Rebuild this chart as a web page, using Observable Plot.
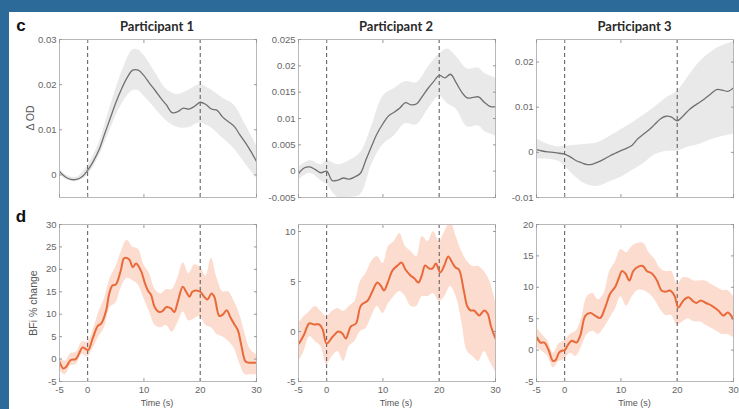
<!DOCTYPE html>
<html>
<head>
<meta charset="utf-8">
<script src="https://cdn.jsdelivr.net/npm/d3@7"></script>
<script src="https://cdn.jsdelivr.net/npm/@observablehq/plot@0.6"></script>
<style>
  body { margin: 0; }
  #root { position: relative; width: 739px; height: 409px; background: #2b6a99; overflow: hidden; }
  #paper { position: absolute; left: 9px; top: 12px; right: 0; bottom: 0; background: #fff; }
  .abs { position: absolute; white-space: nowrap; }
  .title { font-family: Lato, "Open Sans", sans-serif; font-weight: 700; font-size: 13px; color: #2a2a2a; transform: translate(-50%, -50%); }
  .tag { font-family: "Liberation Sans", Arial, sans-serif; font-weight: 700; font-size: 17px; color: #111; transform: translate(-50%, -50%); }
  .ylab { font-family: "Liberation Sans", Arial, sans-serif; font-size: 10.5px; color: #555; transform: translate(-50%, -50%) rotate(-90deg); }
  .xlab { font-family: "Liberation Sans", Arial, sans-serif; font-size: 9px; color: #555; transform: translate(-50%, -50%); }
  svg { position: absolute; }
</style>
</head>
<body>
<div id="root"><div id="paper"></div></div>
<script>
// ---------- data ----------
const titles = ["Participant 1", "Participant 2", "Participant 3"];
const rowTags = ["c", "d"];
const rowYLabels = ["Δ OD", "BFi % change"];
const xAxisLabel = "Time (s)";
const xTicks = [-5, 0, 10, 20, 30];
const eventTimes = [0, 20];

// Row c: ΔOD (mean line, 1 s grid)
const odTime = [-5,-4,-3,-2,-1,0,1,2,3,4,5,6,7,8,9,10,11,12,13,14,15,16,17,18,19,20,21,22,23,24,25,26,27,28,29,30];
const od1Mean = [0.0008,-0.0004,-0.0010,-0.0010,-0.0004,0.0010,0.0030,0.0055,0.0090,0.0125,0.0160,0.0190,0.0215,0.0232,0.0232,0.0220,0.0203,0.0187,0.0170,0.0155,0.0138,0.0140,0.0148,0.0146,0.0152,0.0161,0.0156,0.0146,0.0143,0.0128,0.0118,0.0108,0.0090,0.0072,0.0052,0.0030];
const od2Mean = [-0.0005,0.0006,0.0008,0.0003,-0.0003,0.0000,-0.0018,-0.0017,-0.0013,-0.0015,-0.0011,-0.0004,0.0022,0.0048,0.0072,0.0090,0.0105,0.0112,0.0120,0.0130,0.0126,0.0128,0.0142,0.0157,0.0170,0.0182,0.0177,0.0184,0.0168,0.0150,0.0139,0.0140,0.0141,0.0131,0.0123,0.0122];
const od3Mean = [0.0006,0.0003,0.0001,0.0000,-0.0002,-0.0004,-0.0010,-0.0018,-0.0023,-0.0027,-0.0026,-0.0021,-0.0015,-0.0008,-0.0002,0.0004,0.0009,0.0016,0.0030,0.0040,0.0050,0.0062,0.0074,0.0080,0.0078,0.0070,0.0080,0.0093,0.0103,0.0111,0.0120,0.0130,0.0139,0.0138,0.0135,0.0143];

const od1BandTime = [-5,-4,-2,0,2,4,6,8,9,10,12,14,16,18,20,22,24,26,28,30];
const od1Lo = [0.0002,-0.0009,-0.0015,0.0000,0.0040,0.0100,0.0155,0.0187,0.0187,0.0175,0.0147,0.0120,0.0105,0.0105,0.0115,0.0104,0.0081,0.0058,0.0025,-0.0007];
const od1Hi = [0.0014,0.0001,-0.0005,0.0020,0.0070,0.0150,0.0225,0.0277,0.0277,0.0265,0.0227,0.0190,0.0178,0.0188,0.0200,0.0188,0.0170,0.0155,0.0112,0.0065];

const od2BandTime = [-5,-3,-1,0,2,4,6,8,10,12,14,16,18,20,21.5,23,25,27,28,30];
const od2Lo = [-0.0017,-0.0004,-0.0018,-0.0025,-0.0050,-0.0050,-0.0045,0.0012,0.0050,0.0067,0.0090,0.0088,0.0117,0.0142,0.0128,0.0118,0.0084,0.0086,0.0076,0.0067];
const od2Hi = [0.0007,0.0020,0.0012,0.0020,0.0012,0.0020,0.0035,0.0085,0.0142,0.0157,0.0170,0.0168,0.0197,0.0222,0.0232,0.0218,0.0194,0.0196,0.0186,0.0177];

const od3BandTime = [-5,-3,-1,0,2,4,6,8,10,12,14,16,18,20,22,24,26,28,30];
const od3Lo = [-0.0015,-0.0015,-0.0020,-0.0030,-0.0055,-0.0072,-0.0075,-0.0065,-0.0055,-0.0040,-0.0025,-0.0006,0.0002,0.0003,0.0012,0.0018,0.0028,0.0035,0.0040];
const od3Hi = [0.0030,0.0018,0.0012,0.0014,0.0016,0.0018,0.0022,0.0035,0.0050,0.0065,0.0082,0.0100,0.0120,0.0135,0.0168,0.0200,0.0222,0.0236,0.0245];

// Row d: BFi % change
const bfi1Time = [-5,-4.3,-3.8,-3,-2.1,-1.5,-0.9,-0.3,0.1,0.9,1.8,2.4,3.3,3.8,4.4,5,5.9,6.5,7.4,8,8.6,9.5,10.1,10.7,11.3,11.9,12.7,13.3,14,14.8,15.4,16,16.9,17.5,18.1,18.6,19.2,20,20.7,21.3,22,22.5,23.4,24,24.7,25.4,26,26.7,27.3,28.1,29,30];
const bfi1Mean = [-0.6,-2.1,-1.7,-0.2,0,1.3,2.6,2.2,2.0,4.6,7.4,7.9,10.9,14.4,16.4,16.6,19.8,22.5,22.2,20.5,21.3,19.6,17.2,15.3,14.2,11.6,10.5,10.7,11.6,11.3,10.5,12.7,16.1,15.0,13.9,15.0,15.3,15.0,13.9,13.3,14.6,13.9,9.6,9.9,10.9,9.2,7.9,6.4,3.1,-0.6,-0.8,-0.8];
const bfiBandTime = [-5,-4,-3,-2,-1,0,1,2,3,4,5,6,7,8,9,10,11,12,13,14,15,16,17,18,19,20,21,22,23,24,25,26,27,28,29,30];
const bfi1Lo = [-2.5,-3.5,-1.5,-1.2,1.0,0.5,2.5,5.0,7.0,11.5,12.5,16.0,18.0,17.5,16.5,13.5,10.5,7.5,7.0,7.5,6.0,8.0,10.5,8.5,9.0,9.5,7.5,7.0,5.5,5.0,4.0,2.5,-1.0,-3.5,-3.5,-3.5];
const bfi1Hi = [0.5,-0.5,1.2,1.5,3.8,3.8,6.5,10.5,13.5,18.0,20.5,24.0,26.5,25.0,24.5,21.0,19.0,15.5,14.5,15.5,15.5,18.0,21.5,19.0,21.0,20.5,18.5,22.5,18.0,15.0,15.0,13.0,10.0,5.5,2.0,1.0];

const bfi2Time = [-4.9,-4,-3.1,-2.2,-1.3,-0.7,0,1.1,2.1,2.8,3.4,4.3,5.2,6.1,7.3,8.2,9,9.6,10.2,10.8,11.7,12.6,13.3,14,14.9,15.6,16.3,16.9,17.5,18.2,18.8,19.4,20.2,20.9,21.6,22.4,22.9,23.5,24.4,25,25.6,26.2,27.1,28,28.6,29.2,30];
const bfi2Mean = [-1.2,-0.3,0.8,0.7,0.7,0.2,-1.2,-0.5,0,-0.2,-0.7,0.5,0.8,2.6,3.1,4.1,4.9,4.6,4.1,4.8,6.1,6.6,6.9,6.2,5.6,5.3,4.9,5.6,6.6,6.3,6.3,6.8,5.9,6.6,7.5,6.8,6.4,6.2,4.0,2.5,2.1,2.1,1.6,2.1,1.8,0.5,-0.7];
const bfi2Lo = [-3.0,-2.0,-0.5,-1.0,-1.5,-3.3,-2.5,-2.0,-3.0,-1.5,-1.0,0.0,0.3,1.5,2.5,1.8,2.8,3.5,4.0,3.5,2.5,2.5,3.5,3.5,3.8,3.0,3.5,4.5,3.5,1.0,-2.0,-2.5,-3.0,-2.0,-3.0,-4.0];
const bfi2Hi = [0.8,1.5,2.0,2.5,2.0,1.5,2.0,2.3,2.0,2.5,3.0,5.0,5.8,7.0,7.5,6.8,8.5,9.0,9.8,8.5,8.0,7.5,9.5,9.0,10.0,9.0,10.0,11.0,9.5,8.0,7.0,6.5,6.5,6.0,5.0,3.0];

const bfi3Time = [-4.9,-4.3,-3.6,-2.8,-2.1,-1.6,-1,-0.5,0,0.7,1.3,2.1,2.8,3.7,4.6,5.4,6.3,7.2,8.1,9,9.6,10.2,10.8,11.5,12.2,13.1,13.9,14.6,15.5,16.4,17.2,17.9,18.7,19.5,20.2,21.1,22,22.8,23.4,24.2,25.1,26.1,27.3,28.2,29,29.9];
const bfi3Mean = [2.0,1.2,1.2,-0.1,-1.7,-1.6,-0.4,-0.1,0,1.0,1.5,1.2,2.4,5.5,5.9,5.5,5.1,6.8,9.0,10.1,11.4,12.6,12.2,11.1,12.6,13.3,13.4,12.6,12.2,11.1,9.5,9.3,9.5,8.7,6.8,7.9,8.4,7.8,7.5,7.9,7.5,7.1,6.3,5.5,6.0,5.0];
const bfi3Lo = [0.5,-0.2,-1.0,-2.8,-1.8,-1.5,-0.5,-1.0,0.5,2.5,3.0,2.5,3.5,5.0,6.5,8.5,7.0,8.5,9.5,9.5,9.0,8.0,6.5,5.5,5.5,4.0,4.5,5.0,4.5,4.5,4.0,3.5,3.0,2.5,2.5,2.0];
const bfi3Hi = [3.5,2.5,1.5,-0.5,1.0,1.5,2.5,3.0,5.0,8.5,9.0,8.0,9.0,12.5,14.0,16.0,15.5,16.5,17.0,17.0,15.5,14.5,13.0,12.5,12.5,10.5,11.5,11.5,11.0,11.0,11.0,10.5,10.0,9.5,9.5,8.5];

const odYDomains = [[-0.005, 0.03], [-0.005, 0.025], [-0.01, 0.025]];
const odYTicks = [[0, 0.01, 0.02, 0.03], [-0.005, 0, 0.005, 0.01, 0.015, 0.02, 0.025], [-0.01, 0, 0.01, 0.02]];
const bfiYDomains = [[-5, 30], [-5, 10.7], [-5, 20]];
const bfiYTicks = [[-5, 0, 5, 10, 15, 20, 25, 30], [-5, 0, 5, 10], [-5, 0, 5, 10, 15, 20]];

// ---------- layout ----------
const cols = [{left: 58.5, width: 197}, {left: 297.5, width: 197}, {left: 536, width: 197}];
const rows = [{top: 38.5, height: 158}, {top: 224, height: 157}];
const ML = 40, MR = 4, MT = 4, MB = 22;
const fmt = d => d3.format("~g")(d).replace("\u2212", "-");
const blank = () => "";
const root = document.getElementById("root");

function makePanel(cfg) {
  const {lineT, lineV, bandT, bandLo, bandHi, yDomain, yTicks, lineColor, bandColor, lineWidth, xLabels, col, row} = cfg;
  const line = lineT.map((t, i) => ({t, v: lineV[i]}));
  const band = bandT.map((t, i) => ({t, lo: bandLo[i], hi: bandHi[i]}));
  const svg = Plot.plot({
    width: col.width + ML + MR,
    height: row.height + MT + MB,
    marginLeft: ML, marginRight: MR, marginTop: MT, marginBottom: MB,
    x: {domain: [-5, 30]},
    y: {domain: yDomain},
    style: {background: "transparent", fontFamily: "'Liberation Sans', Arial, sans-serif", fontSize: "9.5px", color: "#666", overflow: "visible"},
    marks: [
      Plot.areaY(band, {x: "t", y1: "lo", y2: "hi", fill: bandColor, curve: "catmull-rom", clip: true}),
      Plot.ruleX(eventTimes, {stroke: "#555", strokeDasharray: "4,3", strokeWidth: 1}),
      Plot.lineY(line, {x: "t", y: "v", stroke: lineColor, strokeWidth: lineWidth, curve: "catmull-rom", clip: true}),
      Plot.frame({stroke: "#b8b8b8"}),
      Plot.axisY(yTicks, {anchor: "left", tickSize: -3, tickPadding: 6, tickFormat: fmt, stroke: "#999", fill: "#666", label: null}),
      Plot.axisY(yTicks, {anchor: "right", tickSize: -3, tickFormat: blank, stroke: "#999", label: null}),
      Plot.axisX(xTicks, {anchor: "bottom", tickSize: -3, tickPadding: 8, tickFormat: xLabels ? fmt : blank, stroke: "#999", fill: "#666", label: null}),
      Plot.axisX(xTicks, {anchor: "top", tickSize: -3, tickFormat: blank, stroke: "#999", label: null})
    ]
  });
  svg.style.left = (col.left - ML) + "px";
  svg.style.top = (row.top - MT) + "px";
  root.appendChild(svg);
}

function addText(cls, text, x, y) {
  const el = document.createElement("div");
  el.className = "abs " + cls;
  el.textContent = text;
  el.style.left = x + "px";
  el.style.top = y + "px";
  root.appendChild(el);
}

const odMeans = [od1Mean, od2Mean, od3Mean];
const odBands = [[od1BandTime, od1Lo, od1Hi], [od2BandTime, od2Lo, od2Hi], [od3BandTime, od3Lo, od3Hi]];
const bfiLines = [[bfi1Time, bfi1Mean], [bfi2Time, bfi2Mean], [bfi3Time, bfi3Mean]];
const bfiBands = [[bfi1Lo, bfi1Hi], [bfi2Lo, bfi2Hi], [bfi3Lo, bfi3Hi]];

for (let i = 0; i < 3; i++) {
  makePanel({
    lineT: odTime, lineV: odMeans[i],
    bandT: odBands[i][0], bandLo: odBands[i][1], bandHi: odBands[i][2],
    yDomain: odYDomains[i], yTicks: odYTicks[i],
    lineColor: "#707070", bandColor: "#e9e9e9", lineWidth: 1.3,
    xLabels: false, col: cols[i], row: rows[0]
  });
  makePanel({
    lineT: bfiLines[i][0], lineV: bfiLines[i][1],
    bandT: bfiBandTime, bandLo: bfiBands[i][0], bandHi: bfiBands[i][1],
    yDomain: bfiYDomains[i], yTicks: bfiYTicks[i],
    lineColor: "#e86a3a", bandColor: "#fcdccf", lineWidth: 2,
    xLabels: true, col: cols[i], row: rows[1]
  });
  addText("title", titles[i], cols[i].left + cols[i].width / 2, 26);
  addText("xlab", xAxisLabel, cols[i].left + cols[i].width / 2, 403);
}
addText("tag", rowTags[0], 21, 26);
addText("tag", rowTags[1], 21, 217);
addText("ylab", rowYLabels[0], 30, rows[0].top + rows[0].height / 2);
addText("ylab", rowYLabels[1], 33, rows[1].top + rows[1].height / 2);
</script>
</body>
</html>
